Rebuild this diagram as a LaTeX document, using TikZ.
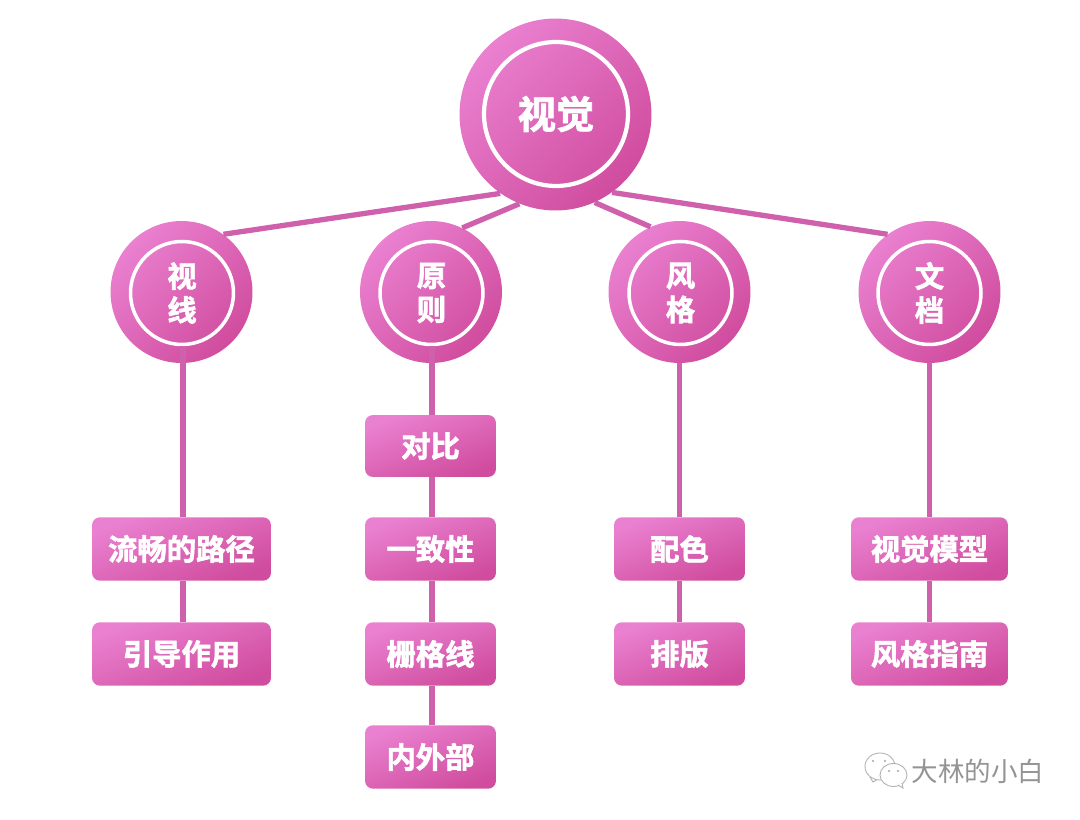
\documentclass[tikz,border=0pt]{standalone}
\usepackage{fontspec}
\usepackage{xcolor}
\setmainfont{Noto Sans CJK SC}
\newfontfamily\cjkheavy[FakeBold=2]{Noto Sans CJK SC Bold}
\definecolor{pinkLight}{HTML}{EA80D0}
\definecolor{pinkDark}{HTML}{D04C9E}
\definecolor{pinkLine}{HTML}{CE60AC}
\tikzset{
    shadeBase/.style={shading=axis, top color=pinkLight, bottom color=pinkDark, shading angle=45, draw=none, inner sep=0pt},
    mainCircle/.style={shadeBase, circle, minimum size=3.84cm},
    mainRing/.style={circle, draw=white, line width=2.4pt, minimum size=2.88cm, inner sep=0pt, text=white, font=\cjkheavy\fontsize{21.8}{24}\selectfont},
    subCircle/.style={shadeBase, circle, minimum size=2.84cm},
    subRing/.style={circle, draw=white, line width=2pt, minimum size=2.06cm, inner sep=0pt, text=white, align=center, font=\cjkheavy\fontsize{16.7}{19.3}\selectfont},
    leafBox/.style={shadeBase, shading angle=22, rectangle, rounded corners=0.16cm, minimum height=1.27cm, text=white, font=\cjkheavy\fontsize{16.7}{20}\selectfont},
    link/.style={draw=pinkLine, line width=3pt},
    chatBubble/.style={draw=black!30, fill=white, line width=0.5pt},
}
\begin{document}
\begin{tikzpicture}[x=0.02cm, y=-0.02cm]
    \useasboundingbox (0,0) rectangle (1080,820);

    % Circles
    \node[mainCircle] (visual) at (555.5,114.5) {};
    \node[mainRing] (visualRing) at (556,114) {视觉};
    \node[subCircle] (sight) at (181.5,292) {};
    \node[subRing] (sightRing) at (182,293) {视\\线};
    \node[subCircle] (rule) at (431,292) {};
    \node[subRing] (ruleRing) at (431.5,293) {原\\则};
    \node[subCircle] (style) at (679.5,292) {};
    \node[subRing] (styleRing) at (680.5,293) {风\\格};
    \node[subCircle] (doc) at (929.5,292) {};
    \node[subRing] (docRing) at (929.5,293) {文\\档};

    % Boxes under each circle
    \node[leafBox, minimum width=3.58cm] (path) at (181.5,549) {流畅的路径};
    \node[leafBox, minimum width=3.58cm] (guide) at (181.5,654) {引导作用};
    \node[leafBox, minimum width=2.62cm, minimum height=1.24cm] (contrast) at (430.5,446) {对比};
    \node[leafBox, minimum width=2.62cm] (unity) at (430.5,549) {一致性};
    \node[leafBox, minimum width=2.62cm] (grid) at (430.5,654) {栅格线};
    \node[leafBox, minimum width=2.62cm] (inout) at (430.5,757) {内外部};
    \node[leafBox, minimum width=2.62cm] (palette) at (679.5,549) {配色};
    \node[leafBox, minimum width=2.62cm] (layout) at (679.5,654) {排版};
    \node[leafBox, minimum width=3.14cm] (model) at (929.5,549) {视觉模型};
    \node[leafBox, minimum width=3.14cm] (guideline) at (929.5,654) {风格指南};

    % Top links
    \draw[link] (visual.235.5) -- (sight.54.4);
    \draw[link] (visual.248.3) -- (rule.64.5);
    \draw[link] (visual.294.4) -- (style.114.7);
    \draw[link] (visual.306.9) -- (doc.126.2);

    % Vertical links
    \draw[link] ([xshift=0.03cm]sight.center |- sightRing.south) -- ([xshift=0.03cm]path.north);
    \draw[link] ([xshift=0.03cm]path.south) -- ([xshift=0.03cm]guide.north);
    \draw[link] ([xshift=0.03cm]contrast.center |- ruleRing.south) -- ([xshift=0.03cm]contrast.north);
    \draw[link] ([xshift=0.03cm]contrast.south) -- ([xshift=0.03cm]unity.north);
    \draw[link] ([xshift=0.03cm]unity.south) -- ([xshift=0.03cm]grid.north);
    \draw[link] ([xshift=0.03cm]grid.south) -- ([xshift=0.03cm]inout.north);
    \draw[link] (style.south) -- (palette.north);
    \draw[link] (palette.south) -- (layout.north);
    \draw[link] (doc.south) -- (model.north);
    \draw[link] (model.south) -- (guideline.north);

    % Mark in the corner
    \begin{scope}
        \draw[chatBubble] (870,777) -- (873,782) -- (880,778);
        \draw[chatBubble] (880,766.5) ellipse (15 and 13.5);
        \draw[chatBubble] (893.5,775) ellipse (13.5 and 11.5);
        \draw[chatBubble] (898,785) -- (903,788) -- (902,783);
        \fill[black!35] (873,761) circle (1.2);
        \fill[black!35] (885,761) circle (1.2);
        \fill[black!35] (889,771) circle (1.1);
        \fill[black!35] (898,771) circle (1.1);
    \end{scope}
    \node[text=black!42, font=\fontsize{15.1}{18}\selectfont] (mark) at (978,771) {大林的小白};
\end{tikzpicture}
\end{document}
